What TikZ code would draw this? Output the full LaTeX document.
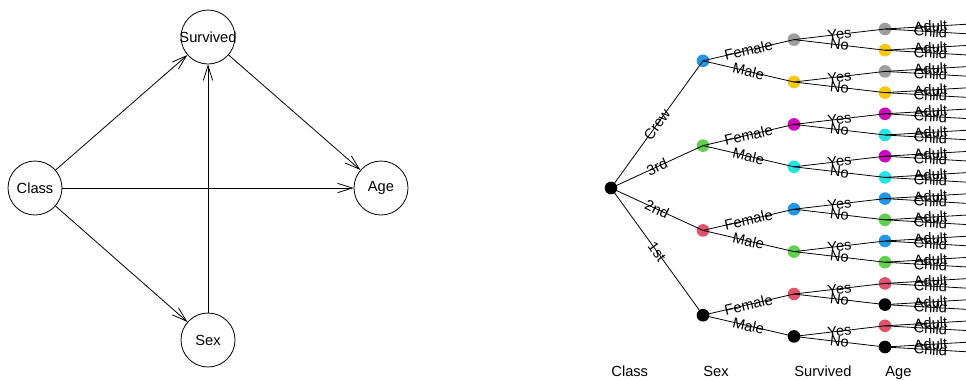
\documentclass[tikz,border=0pt]{standalone}
\usepackage{fontspec}
\setmainfont{Liberation Sans}
\usetikzlibrary{arrows.meta,positioning}

\definecolor{rred}{HTML}{DF536B}
\definecolor{rgreen}{HTML}{61D04F}
\definecolor{rblue}{HTML}{2297E6}
\definecolor{rcyan}{HTML}{28E2E5}
\definecolor{rmagenta}{HTML}{CD0BBC}
\definecolor{ryellow}{HTML}{F5C710}
\definecolor{rgray}{HTML}{9E9E9E}

\begin{document}
\begin{tikzpicture}[x=0.75pt, y=-0.75pt, line width=0.6pt, font=\fontsize{11}{13}\selectfont,
  var/.style={circle,draw,minimum size=40.5pt,inner sep=0pt},
  dot/.style={circle,minimum size=9.5pt,inner sep=0pt},
  lab/.style={sloped,inner sep=0pt},
  arr/.style={-{Straight Barb[length=11pt,width=7pt]}}]
\useasboundingbox (0,0) rectangle (966,380);
\clip (0,0) rectangle (966,380);

% DAG on the left
\foreach \pos/\name/\disp in {{(35,188)/cls/Class}, {(208,37)/surv/Survived}, {(381,188)/age/Age}, {(208,340)/sex/Sex}}
\node[var,label={center:\disp}] (\name) at \pos {};

\foreach \source/ \dest in {cls/surv, cls/age, cls/sex, sex/surv, surv/age}
\path[draw,arr] (\source) -- (\dest);

% tree on the right
\node[dot,fill=black] (root) at (611,188) {};
\foreach \col [count=\i from 0] in {rblue,rgreen,rred,black}
\node[dot,fill=\col] (c\i) at (703,{60.8+84.8*\i}) {};
\foreach \col [count=\m from 0] in {rgray,ryellow,rmagenta,rcyan,rblue,rgreen,rred,black}
\node[dot,fill=\col] (s\m) at (794,{39.6+42.4*\m}) {};
\foreach \col [count=\k from 0] in {rgray,ryellow,rgray,ryellow,rmagenta,rcyan,rmagenta,rcyan,rblue,rgreen,rblue,rgreen,rred,black,rred,black}
\node[dot,fill=\col] (a\k) at (885,{29+21.2*\k}) {};
\foreach \j in {0,...,31}
\coordinate (l\j) at (976,{23.7+10.6*\j});

% branches
\foreach \i/\lab in {0/Crew, 1/3rd, 2/2nd, 3/1st}
\path[draw] (root.center) -- node[lab] {\lab} (c\i.center);
\foreach \i in {0,...,3}
  \foreach \s/\lab in {0/Female, 1/Male} {
    \pgfmathtruncatemacro\m{2*\i+\s}
    \path[draw] (c\i.center) -- node[lab] {\lab} (s\m.center);
  }
\foreach \m in {0,...,7}
  \foreach \s/\lab in {0/Yes, 1/No} {
    \pgfmathtruncatemacro\k{2*\m+\s}
    \path[draw] (s\m.center) -- node[lab] {\lab} (a\k.center);
  }
\foreach \k in {0,...,15}
  \foreach \s/\lab in {0/Adult, 1/Child} {
    \pgfmathtruncatemacro\j{2*\k+\s}
    \path[draw] (a\k.center) -- node[lab] {\lab} (l\j);
  }

% level names
\foreach \x/\txt in {611/Class, 703/Sex, 794/Survived, 885/Age}
\node[anchor=base west,inner sep=0pt] (h\txt) at (\x,376) {\txt};

\end{tikzpicture}
\end{document}
